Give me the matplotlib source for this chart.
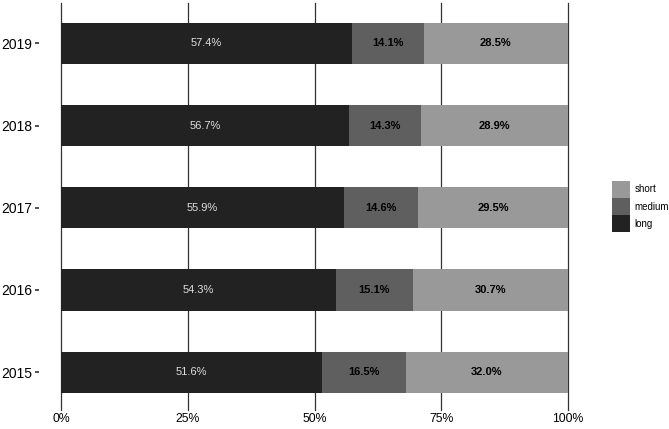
import matplotlib.pyplot as plt
import numpy as np

plt.rcParams['font.family'] = ['Liberation Sans', 'DejaVu Sans']

# data (percent share per year)
years = ['2015', '2016', '2017', '2018', '2019']
long_ = [51.6, 54.3, 55.9, 56.7, 57.4]
medium = [16.5, 15.1, 14.6, 14.3, 14.1]
short = [32.0, 30.7, 29.5, 28.9, 28.5]

colors = {'long': '#222222', 'medium': '#5f5f5f', 'short': '#999999'}

fig = plt.figure(figsize=(6.69, 4.29), dpi=100)
ax = fig.add_axes([61 / 669, 19 / 429, 507 / 669, 407 / 429])

y = np.arange(len(years))
lo = np.array(long_)
me = np.array(medium)
sh = np.array(short)
tot = lo + me + sh
# position = "fill" style stacking
lo_f = lo / tot * 100
me_f = me / tot * 100
sh_f = sh / tot * 100

# grid lines behind bars
for gx in [0, 25, 50, 75, 100]:
    ax.axvline(gx, color='#333333', linewidth=0.9, zorder=0, clip_on=False)

h = 0.5
ax.barh(y, lo_f, height=h, color=colors['long'], label='long', zorder=2)
ax.barh(y, me_f, left=lo_f, height=h, color=colors['medium'], label='medium', zorder=2)
ax.barh(y, sh_f, left=lo_f + me_f, height=h, color=colors['short'], label='short', zorder=2)

# segment labels
for i in range(len(years)):
    ax.text(lo_f[i] / 2, y[i], f'{long_[i]:.1f}%', ha='center', va='center',
            fontsize=8, color='#dddddd', zorder=3)
    ax.text(lo_f[i] + me_f[i] / 2, y[i], f'{medium[i]:.1f}%', ha='center', va='center',
            fontsize=8, color='black', fontweight='bold', zorder=3)
    ax.text(lo_f[i] + me_f[i] + sh_f[i] / 2, y[i], f'{short[i]:.1f}%', ha='center',
            va='center', fontsize=8, color='black', fontweight='bold', zorder=3)

ax.set_xlim(0, 100)
ax.set_ylim(-0.46, 4.49)
ax.set_xticks([0, 25, 50, 75, 100])
ax.set_xticklabels(['0%', '25%', '50%', '75%', '100%'], fontsize=8.8)
ax.set_yticks(y)
ax.set_yticklabels(years, fontsize=8.8)

for s in ax.spines.values():
    s.set_visible(False)
ax.spines['left'].set_position(('outward', 16))
ax.tick_params(axis='y', length=3, width=1.2, color='#333333', pad=1.5)
ax.tick_params(axis='x', length=0, pad=2)

handles, labels = ax.get_legend_handles_labels()
leg = ax.legend(handles[::-1], labels[::-1], loc='center left',
                bbox_to_anchor=(1.08, 0.5), frameon=False, fontsize=7,
                handlelength=1.8, handleheight=2.3, handletextpad=0.5,
                labelspacing=0.05, borderaxespad=0)

plt.savefig('out.png', dpi=100)
